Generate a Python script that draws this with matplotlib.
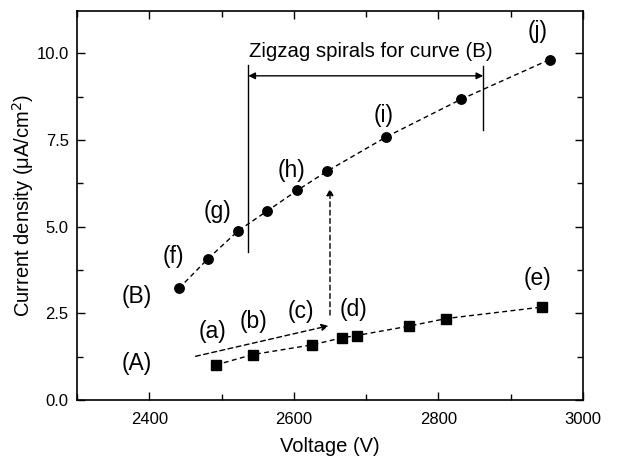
import numpy as np
import matplotlib.pyplot as plt
from matplotlib.ticker import MultipleLocator

# ---------------- DATOS ----------------
# curva (B): circulos
vB = [2441, 2481, 2523, 2563, 2605, 2646, 2728, 2831, 2954]
jB = [3.22, 4.07, 4.88, 5.45, 6.05, 6.60, 7.59, 8.67, 9.82]
# curva (A): cuadrados
vA = [2492, 2543, 2625, 2666, 2687, 2759, 2811, 2943]
jA = [1.01, 1.31, 1.59, 1.79, 1.86, 2.13, 2.35, 2.68]

# etiquetas de puntos (texto, x, y)
etiquetas = [("(a)", 2488, 1.97), ("(b)", 2544, 2.26), ("(c)", 2610, 2.55),
             ("(d)", 2683, 2.62), ("(e)", 2937, 3.49), ("(f)", 2434, 4.13),
             ("(g)", 2495, 5.45), ("(h)", 2597, 6.63), ("(i)", 2724, 8.22),
             ("(j)", 2937, 10.62), ("(A)", 2382, 1.06), ("(B)", 2382, 2.98)]

plt.rcParams['font.family'] = ['Liberation Sans', 'DejaVu Sans']

fig = plt.figure(figsize=(6.19, 4.62), dpi=100)
ax = fig.add_axes([0.1244, 0.1342, 0.8174, 0.842])

dash = (0, (3.5, 2.5))
ax.plot(vB, jB, color='black', linestyle=dash, lw=1.0, marker='o', ms=6.8)
ax.plot(vA, jA, color='black', linestyle=dash, lw=1.0, marker='s', ms=6.5)

for txt, x, y in etiquetas:
    ax.text(x, y, txt, fontsize=16.5, ha='center', va='center')

# flecha (a)->(c)
ax.annotate("", xy=(2648, 2.14), xytext=(2464, 1.26),
            arrowprops=dict(arrowstyle='-|>', color='black', lw=1.0,
                            linestyle=(0, (3.5, 2.5)), mutation_scale=10,
                            shrinkA=0, shrinkB=0))
# flecha vertical (A)->(B)
ax.annotate("", xy=(2650, 6.1), xytext=(2650, 2.45),
            arrowprops=dict(arrowstyle='-|>', color='black', lw=1.0,
                            linestyle=(0, (3.5, 2.5)), mutation_scale=10,
                            shrinkA=0, shrinkB=0))

# zona zigzag
ax.plot([2537, 2537], [4.28, 9.66], color='black', lw=1.0)
ax.plot([2862, 2862], [7.79, 9.63], color='black', lw=1.0)
ax.annotate("", xy=(2537, 9.35), xytext=(2862, 9.35),
            arrowprops=dict(arrowstyle='<|-|>', color='black', lw=1.0,
                            mutation_scale=10, shrinkA=0, shrinkB=0))
ax.text(2707, 10.05, "Zigzag spirals for curve (B)", fontsize=14.7,
        ha='center', va='center')

ax.set_xlim(2300, 3000)
ax.set_ylim(0, 11.22)
ax.xaxis.set_major_locator(MultipleLocator(200))
ax.xaxis.set_minor_locator(MultipleLocator(100))
ax.yaxis.set_major_locator(MultipleLocator(2.5))
ax.yaxis.set_minor_locator(MultipleLocator(1.25))
ax.yaxis.set_major_formatter(plt.FormatStrFormatter('%.1f'))
ax.tick_params(which='both', direction='in', top=True, right=True, labelsize=12)
ax.tick_params(axis='x', which='major', length=6, width=1.0, pad=9)
ax.tick_params(axis='y', which='major', length=6, width=1.0, pad=6)
ax.tick_params(which='minor', length=4, width=1.0)
for s in ax.spines.values():
    s.set_linewidth(1.2)

ax.set_xlabel("Voltage (V)", fontsize=14.5, labelpad=7)
ax.set_ylabel("Current density (μA/cm$^2$)", fontsize=14.5, labelpad=0)

fig.savefig("out.png", dpi=100)
